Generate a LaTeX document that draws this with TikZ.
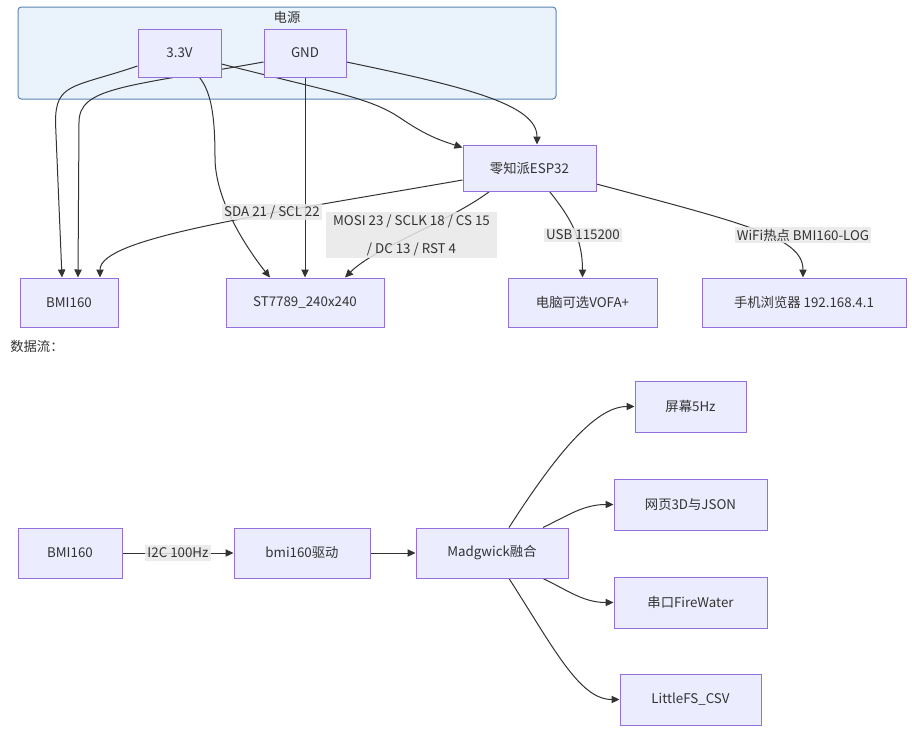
\documentclass[tikz,border=0pt]{standalone}
\usepackage{fontspec}
\setmainfont{Noto Sans CJK SC}
\usetikzlibrary{arrows.meta,calc}
\pgfdeclarelayer{back}
\pgfdeclarelayer{edges}
\pgfsetlayers{back,edges,main}
\definecolor{nodefill}{HTML}{ECECFF}
\definecolor{nodeline}{HTML}{9370DB}
\definecolor{clfill}{HTML}{EAF2FC}
\definecolor{clline}{HTML}{5A86B5}
\definecolor{edgec}{HTML}{333333}
\definecolor{lblfill}{HTML}{E8E8E8}
\definecolor{txt}{HTML}{333333}
\tikzset{
  box/.style={draw=nodeline, fill=nodefill, line width=0.75pt, inner sep=0pt, text=txt,
    font=\fontsize{10pt}{12pt}\selectfont, minimum height=36.75pt},
  lbl/.style={fill=lblfill, fill opacity=0.85, text opacity=1, inner sep=1.5pt, text=txt,
    font=\fontsize{10pt}{12pt}\selectfont},
  conn/.style={draw=edgec, line width=0.75pt, -{Triangle[length=6pt,width=5.5pt]}},
}
\begin{document}
\begin{tikzpicture}[x=0.75pt,y=-0.75pt]
\begin{pgfonlayer}{back}
\useasboundingbox[fill=white] (0,0) rectangle (912,732);
% cluster
\node[draw=clline, fill=clfill, line width=0.75pt, rounded corners=2.5pt, minimum width=403.5pt, minimum height=69pt, inner sep=0pt] (cl) at (287,53) {};
\end{pgfonlayer}
\node[text=txt, font=\fontsize{10pt}{12pt}\selectfont] (cltitle) at (287,17) {电源};
% top nodes
\node[box, minimum width=62.25pt, minimum height=36pt] (v33) at (179.5,53) {3.3V};
\node[box, minimum width=61.5pt, minimum height=36pt] (gnd) at (305,53) {GND};
\node[box, minimum width=99.75pt, minimum height=34.5pt] (esp) at (529.5,168) {零知派ESP32};
\node[box, minimum width=73.5pt] (bmi) at (69,302.5) {BMI160};
\node[box, minimum width=118.5pt] (st) at (305,302.5) {ST7789\_240x240};
\node[box, minimum width=111.75pt] (vofa) at (582.5,302.5) {电脑可选VOFA+};
\node[box, minimum width=153pt] (phone) at (804,302.5) {手机浏览器 192.168.4.1};
% top edges
\begin{pgfonlayer}{edges}
\draw[conn] ($(v33.west)+(0,13)$) .. controls +(-65,22) and +(0,-40) .. ($(v33.south)+(-124,45)$) -- ($(bmi.north)+(-7,0)$);
\draw[conn] ($(gnd.west)+(0,9)$) .. controls +(-140,25) and +(0,-35) .. ($(gnd.south)+(-226,45)$) -- ($(bmi.north)+(9,0)$);
\draw[conn] ($(v33.south)+(20,0)$) .. controls +(12,15) and +(0,-40) .. ($(v33.south)+(35.5,80)$) .. controls +(0,45) and +(-20,-25) .. ($(st.north)+(-35,0)$);
\draw[conn] (gnd.south) -- (st.north);
\draw[conn] ($(v33.east)+(0,11)$) .. controls +(110,28) and +(-30,-20) .. ($(esp.north west)+(-63,-27)$) .. controls +(25,17) and +(-25,-8) .. ($(esp.north west)+(0,3)$);
\draw[conn] ($(gnd.east)+(0,9)$) .. controls +(120,25) and +(0,-40) .. ($(esp.north)+(7.5,0)$);
\draw[conn] ($(esp.west)+(0,12)$) .. controls +(-200,35) and +(0,-40) .. ($(bmi.north)+(31,0)$);
\draw[conn] ($(esp.south)+(-40,0)$) .. controls +(-40,30) and +(30,-30) .. ($(st.north)+(40,0)$);
\draw[conn] ($(esp.south)+(20,0)$) .. controls +(20,25) and +(0,-40) .. (vofa.north);
\draw[conn] ($(esp.east)+(0,16)$) .. controls +(150,40) and +(0,-40) .. ($(phone.north)+(-1,0)$);
\end{pgfonlayer}
% top labels
\node[lbl] (l1) at (272,212) {SDA 21 / SCL 22};
\node[lbl, align=center, font=\fontsize{10pt}{21pt}\selectfont, inner xsep=5pt, inner ysep=2pt] (l2) at (411.5,235) {MOSI 23 / SCLK 18 / CS 15\\/ DC 13 / RST 4};
\node[lbl] (l3) at (583,235) {USB 115200};
\node[lbl] (l4) at (803,235) {WiFi热点 BMI160-LOG};
% data flow
\node[anchor=west, text=txt, font=\fontsize{10pt}{12pt}\selectfont, inner sep=0pt] (dtitle) at (10,346) {数据流：};
\node[box, minimum width=78pt, minimum height=37.5pt] (b1) at (70,553) {BMI160};
\node[box, minimum width=102pt, minimum height=37.5pt] (drv) at (302,553) {bmi160驱动};
\node[box, minimum width=114pt, minimum height=37.5pt] (mad) at (492,553) {Madgwick融合};
\node[box, minimum width=83.25pt, minimum height=38.25pt] (scr) at (690.5,406.5) {屏幕5Hz};
\node[box, minimum width=114.75pt, minimum height=38.25pt] (web) at (690.5,504.5) {网页3D与JSON};
\node[box, minimum width=114.75pt, minimum height=38.25pt] (ser) at (690.5,602.5) {串口FireWater};
\node[box, minimum width=105.75pt, minimum height=38.25pt] (csv) at (690.5,699.5) {LittleFS\_CSV};
\begin{pgfonlayer}{edges}
\draw[conn] (b1.east) -- (drv.west);
\draw[conn] (drv.east) -- (mad.west);
\draw[conn] ($(mad.north)+(17,0)$) .. controls +(45,-70) and +(-40,0) .. (scr.west);
\draw[conn] ($(mad.north)+(51,0)$) .. controls +(25,-12) and +(-30,0) .. (web.west);
\draw[conn] ($(mad.south)+(51,0)$) .. controls +(25,12) and +(-30,0) .. (ser.west);
\draw[conn] ($(mad.south)+(17,0)$) .. controls +(45,70) and +(-40,0) .. (csv.west);
\end{pgfonlayer}
\node[lbl, inner sep=2pt] (l5) at (178,553) {I2C 100Hz};
\end{tikzpicture}
\end{document}
